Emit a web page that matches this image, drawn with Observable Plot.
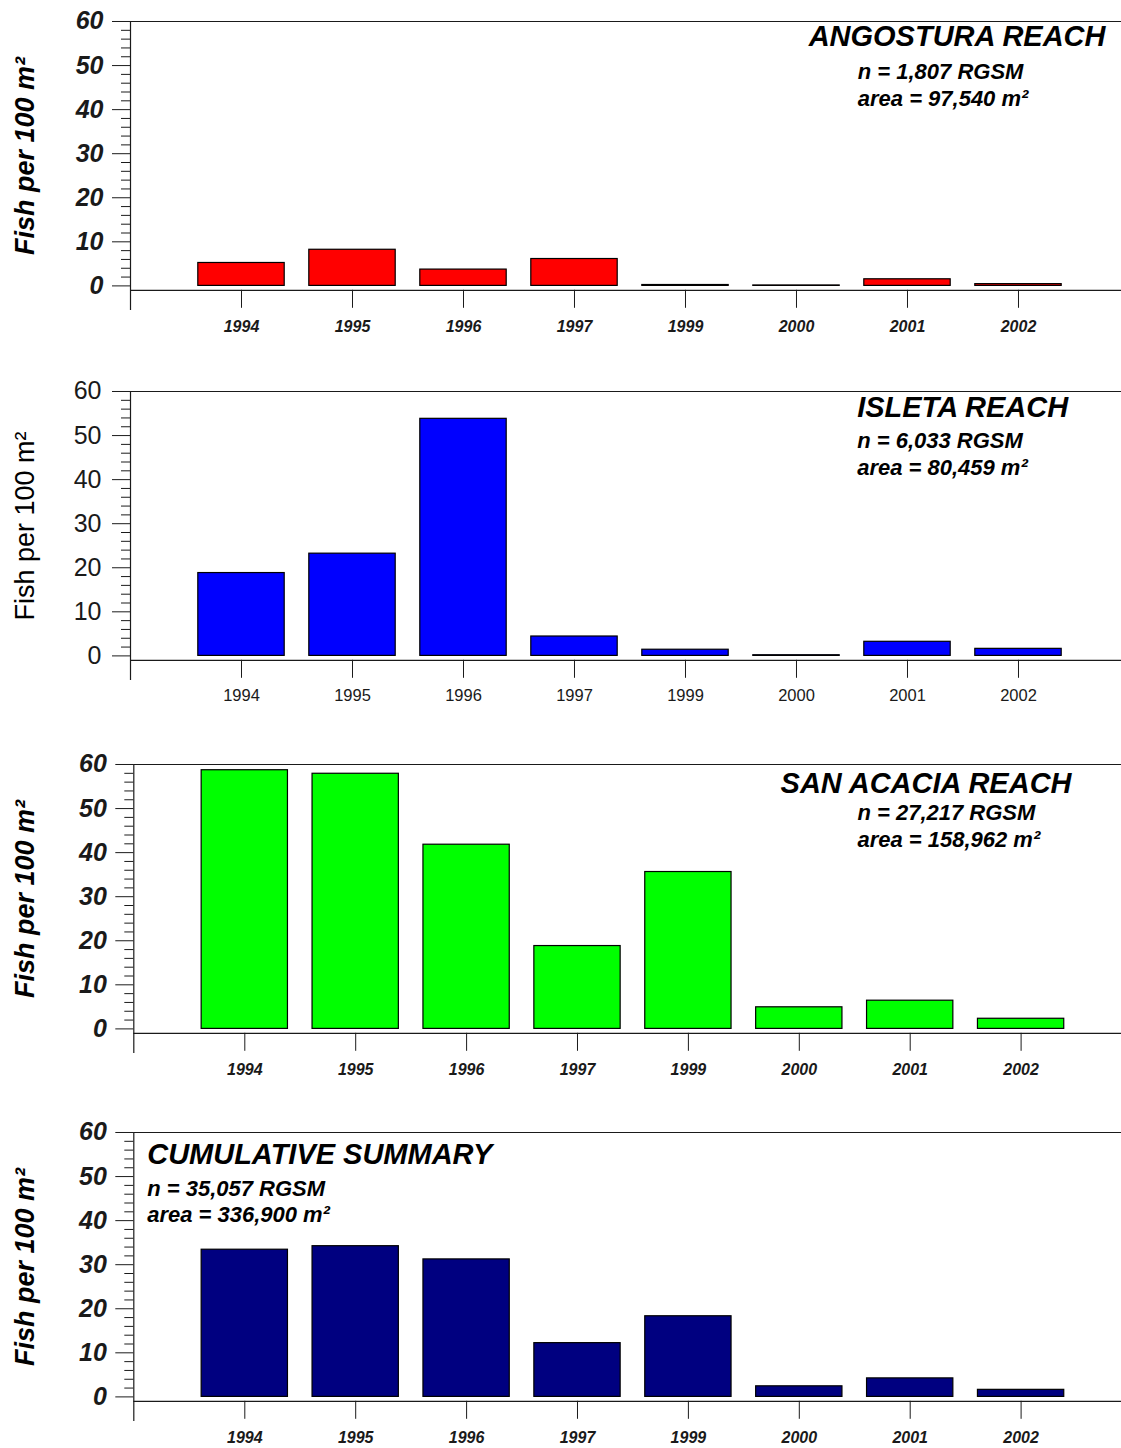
<!DOCTYPE html>
<html><head><meta charset="utf-8">
<script src="https://cdn.jsdelivr.net/npm/d3@7"></script>
<script src="https://cdn.jsdelivr.net/npm/@observablehq/plot@0.6"></script>
<style>
body{margin:0;background:#fff;}
#wrap{position:relative;width:1121px;height:1448px;overflow:hidden;background:#fff;}
#wrap svg{position:absolute;left:0;}
</style></head><body><div id="wrap"></div>
<script>
// ---- data ----
const years = ["1994","1995","1996","1997","1999","2000","2001","2002"];
const angostura  = [5.2, 8.2, 3.7, 6.1, 0.2, 0.1, 1.5, 0.4];
const isleta     = [18.8, 23.2, 53.8, 4.4, 1.4, 0.15, 3.2, 1.6];
const sanAcacia  = [58.7, 57.9, 41.8, 18.8, 35.6, 4.9, 6.4, 2.3];
const cumulative = [33.4, 34.2, 31.2, 12.2, 18.3, 2.4, 4.2, 1.6];
const majorTicks = [0, 10, 20, 30, 40, 50, 60];
const minorTicks = [2,4,6,8,12,14,16,18,22,24,26,28,32,34,36,38,42,44,46,48,52,54,56,58];
const yLabel = "Fish per 100 m²";
const titles = ["ANGOSTURA REACH", "ISLETA REACH", "SAN ACACIA REACH", "CUMULATIVE SUMMARY"];
const nLines = ["n = 1,807 RGSM", "n = 6,033 RGSM", "n = 27,217 RGSM", "n = 35,057 RGSM"];
const areaLines = ["area = 97,540 m²", "area = 80,459 m²", "area = 158,962 m²", "area = 336,900 m²"];

// ---- layout ----
const FONT = "'Liberation Sans', Arial, Helvetica, sans-serif";
const LINE = "#1a1a1a";
const panels = [
  {values: angostura, fill: "#ff0000", top: 1, left: 130, range: [185.5, 1073.5], bold: true,
   titleRight: true, titleDx: -16, titleDy: 15.7, textDx: 727.3, nDy: 50.7, areaDy: 77.3},
  {values: isleta, fill: "#0000ff", top: 370.7, left: 130, range: [185.5, 1073.5], bold: false,
   titleRight: false, titleDx: 726.7, titleDy: 16, textDx: 726.7, nDy: 49.3, areaDy: 76},
  {values: sanAcacia, fill: "#00ff00", top: 744, left: 133.3, range: [188.85, 1076.05], bold: true,
   titleRight: true, titleDx: -50, titleDy: 19.3, textDx: 723.7, nDy: 48.7, areaDy: 75},
  {values: cumulative, fill: "#000080", top: 1112, left: 133.3, range: [188.85, 1076.05], bold: true,
   titleRight: false, titleDx: 13.4, titleDy: 22.7, textDx: 13.4, nDy: 56, areaDy: 82.7}
];

function makePanel(cfg, k) {
  const data = years.map((year, i) => ({year, value: cfg.values[i]}));
  const af = cfg.bold ? {fontWeight: "bold", fontStyle: "italic"} : {fontWeight: "normal", fontStyle: "normal"};
  const ann = {fontFamily: FONT, fontWeight: "bold", fontStyle: "italic", fill: "#000", lineAnchor: "middle"};
  const mt = 20, innerH = 268.8, mb = 52;
  return Plot.plot({
    width: 1121, height: mt + innerH + mb,
    marginTop: mt, marginBottom: mb, marginLeft: cfg.left, marginRight: 0,
    style: {fontFamily: FONT, background: "transparent", overflow: "visible", color: "#000"},
    x: {type: "band", domain: years, range: cfg.range, padding: 0, round: false, label: null},
    y: {domain: [-1, 60], label: null},
    marks: [
      Plot.barY(data, {x: "year", y: "value", fill: cfg.fill, stroke: "#000", strokeWidth: 1.2,
                       insetLeft: 12.3, insetRight: 12.3}),
      Plot.ruleY([60], {stroke: LINE, strokeWidth: 1.2}),
      Plot.ruleY([-1], {stroke: LINE, strokeWidth: 1.2}),
      Plot.frame({anchor: "left", insetBottom: -19, stroke: LINE, strokeWidth: 1.2}),
      Plot.axisY(majorTicks, {anchor: "left", tickSize: 18, tickPadding: cfg.bold ? 9 : 11,
                 fontSize: 25, fontFamily: FONT, ...af, label: null, color: LINE}),
      Plot.axisY(minorTicks, {anchor: "left", tickSize: 9, tickFormat: () => "", label: null, color: LINE}),
      Plot.axisX({anchor: "bottom", tickSize: 18, tickPadding: cfg.bold ? 12 : 11.3,
                  fontSize: cfg.bold ? 16 : 16.5, fontFamily: FONT, ...af, label: null, color: LINE}),
      Plot.text([yLabel], {frameAnchor: "left", rotate: -90, dx: 25 - cfg.left, fontSize: 27,
                 fontFamily: FONT, ...af, fill: "#000", textAnchor: "middle", lineAnchor: "middle"}),
      Plot.text([titles[k]], {frameAnchor: cfg.titleRight ? "top-right" : "top-left",
                 textAnchor: cfg.titleRight ? "end" : "start", dx: cfg.titleDx, dy: cfg.titleDy,
                 fontSize: 29, ...ann}),
      Plot.text([nLines[k]], {frameAnchor: "top-left", textAnchor: "start", dx: cfg.textDx, dy: cfg.nDy,
                 fontSize: 22, ...ann}),
      Plot.text([areaLines[k]], {frameAnchor: "top-left", textAnchor: "start", dx: cfg.textDx, dy: cfg.areaDy,
                 fontSize: 22, ...ann})
    ]
  });
}

const wrap = document.getElementById("wrap");
panels.forEach((cfg, k) => {
  const svg = makePanel(cfg, k);
  svg.style.top = cfg.top + "px";
  wrap.appendChild(svg);
});
</script>
</body></html>
